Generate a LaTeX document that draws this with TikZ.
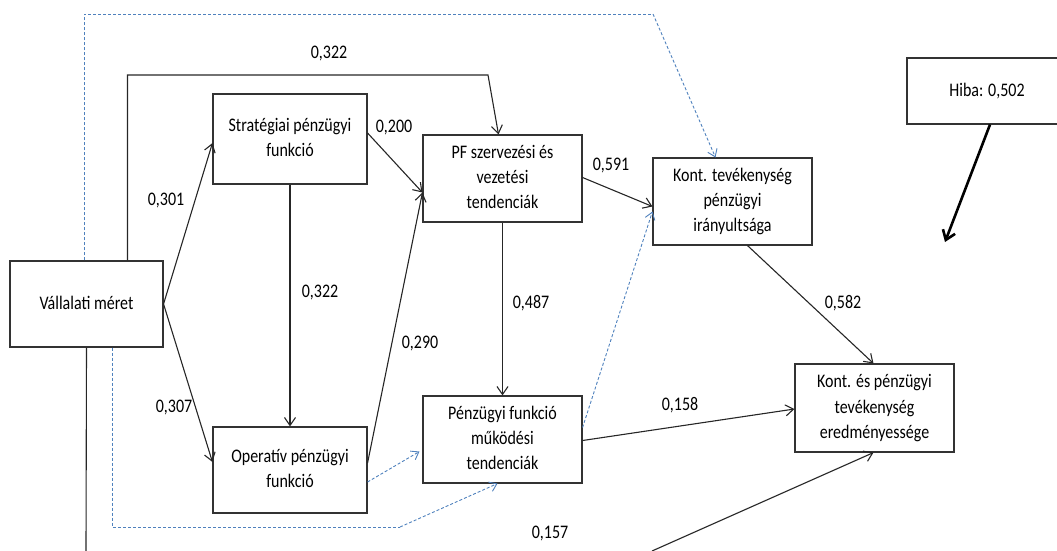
\documentclass[tikz,border=0pt]{standalone}
\usepackage{fontspec}
\setmainfont{Carlito}
\usetikzlibrary{arrows.meta,calc}
\definecolor{dashblue}{RGB}{79,129,189}
\newcommand\vtxt[1]{\scalebox{1}[1.2]{\begin{tabular}{@{}c@{}}#1\end{tabular}}}
\begin{document}
\begin{tikzpicture}[x=1pt,y=-1pt,
  every node/.style={font=\fontsize{16}{21}\selectfont},
  box/.style={draw=black!80,line width=1.1pt,rectangle,align=center,inner sep=2pt},
  conn/.style={draw=black!85,line width=1.1pt,-{Straight Barb[length=8pt,width=11pt,line width=1.1pt]}},
  blueconn/.style={draw=dashblue,line width=0.9pt,dash pattern=on 3pt off 2pt,-{Straight Barb[length=7pt,width=10pt,line width=0.9pt]}},
  bluepath/.style={draw=dashblue,line width=0.9pt,dash pattern=on 3pt off 2pt},
  thick conn/.style={draw=black,line width=2.6pt,-{Straight Barb[length=9pt,width=13pt,line width=2.6pt]}},
  lbl/.style={inner sep=0pt}]
\useasboundingbox (0,0) rectangle (1057,550);
\begin{scope}
\clip (0,0) rectangle (1057,550);
% boxes
\node[box,minimum width=153pt,minimum height=86pt] (V) at (86.5,304) {\vtxt{Vállalati méret}};
\node[box,minimum width=154pt,minimum height=90pt] (S) at (290,139) {\vtxt{Stratégiai pénzügyi\\funkció}};
\node[box,minimum width=154pt,minimum height=86pt] (O) at (290,470) {\vtxt{Operatív pénzügyi\\funkció}};
\node[box,minimum width=159pt,minimum height=87pt] (PF) at (502.5,178.5) {\vtxt{PF szervezési és\\vezetési\\tendenciák}};
\node[box,minimum width=159pt,minimum height=87pt] (PE) at (502.5,439.5) {\vtxt{Pénzügyi funkció\\működési\\tendenciák}};
\node[box,minimum width=159pt,minimum height=87pt] (KT) at (732.5,201.5) {\vtxt{Kont. tevékenység\\pénzügyi\\irányultsága}};
\node[box,minimum width=159pt,minimum height=88pt] (KE) at (874.5,408) {\vtxt{Kont. és pénzügyi\\tevékenység\\eredményessége}};
\node[box,minimum width=160pt,minimum height=66pt] (H) at (987,91) {\vtxt{Hiba: 0,502}};
% helper coordinates
\coordinate (t1) at (488,75);
\coordinate (t2) at (653,14);
\coordinate (b1) at (400,527);
\coordinate (e1) at (652,551);
\coordinate (e2) at (86,551);
\coordinate (h2) at (945,242);
% top solid path 0,322
\draw[conn] ($(V.north west)+(118,0)$) |- (t1) -- ($(PF.north)+(-4,0)$);
% blue top path
\draw[bluepath] ($(V.north west)+(75,0)$) |- (t2);
\draw[blueconn] (t2) -- ($(KT.north)+(-17,0)$);
% from V
\draw[conn] (V.east) -- ($(S.west)+(0,4)$);
\draw[conn] (V.east) -- ($(O.west)+(0,-8)$);
% S -> O
\draw[conn] (S.south) -- (O.north);
% S -> PF, O -> PF
\draw[conn] ($(S.east)+(0,-6)$) -- ($(PF.west)+(0,14)$);
\draw[conn] ($(O.east)+(0,-7)$) -- ($(PF.west)+(0,14)$);
% PF -> KT
\draw[conn] ($(PF.east)+(0,-1)$) -- ($(KT.west)+(0,5)$);
% PE -> KT (blue)
\draw[blueconn] ($(PE.east)+(0,-12)$) -- ($(KT.west)+(0,10)$);
% PF -> PE
\draw[conn] (PF.south) -- (PE.north);
% O -> PE (blue)
\draw[blueconn] ($(O.east)+(0,12)$) -- ($(PE.west)+(-3,12)$);
% V -> PE (blue, bottom)
\draw[bluepath] ($(V.south west)+(103,0)$) |- (b1);
\draw[blueconn] (b1) -- ($(PE.south)+(-5,0)$);
% KT -> KE
\draw[conn] ($(KT.south)+(15,0)$) -- ($(KE.north)+(-1,0)$);
% PE -> KE
\draw[conn] ($(PE.east)+(0,1)$) -- ($(KE.west)+(0,1)$);
% bottom -> KE
\draw[conn] (e1) -- ($(KE.south)+(-1,0)$);
% V down
\draw[draw=black!85,line width=1.1pt] (V.south) -- (e2);
% Hiba arrow
\draw[thick conn] ($(H.south)+(3,0)$) -- (h2);
\end{scope}
% labels
\node[lbl] (l1) at (329,53) {\vtxt{0,322}};
\node[lbl] (l2) at (166,200) {\vtxt{0,301}};
\node[lbl] (l3) at (174,407) {\vtxt{0,307}};
\node[lbl] (l4) at (320,292) {\vtxt{0,322}};
\node[lbl] (l5) at (394,127) {\vtxt{0,200}};
\node[lbl] (l6) at (420,343) {\vtxt{0,290}};
\node[lbl] (l7) at (611,165) {\vtxt{0,591}};
\node[lbl] (l8) at (531,303) {\vtxt{0,487}};
\node[lbl] (l9) at (843,303) {\vtxt{0,582}};
\node[lbl] (l10) at (680,405) {\vtxt{0,158}};
\node[lbl] (l11) at (550,533) {\vtxt{0,157}};
\end{tikzpicture}
\end{document}
